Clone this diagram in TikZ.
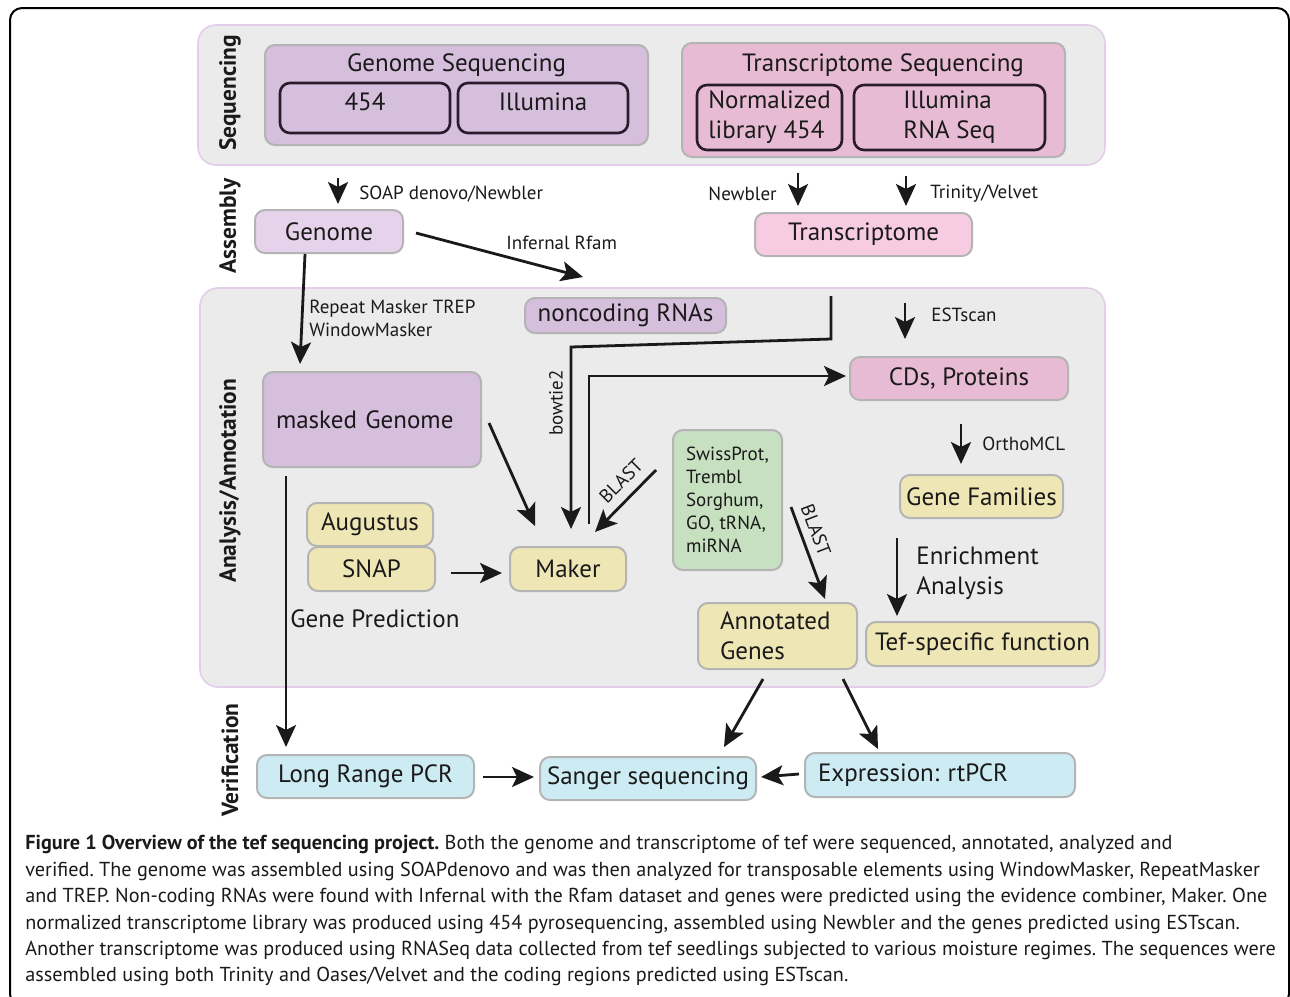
\documentclass[tikz,border=0pt]{standalone}
\usepackage{fontspec}
\setmainfont{PT Sans}
\usepackage{tikz}
\usetikzlibrary{arrows.meta}
\frenchspacing

\definecolor{bandfill}{HTML}{EBEBEB}
\definecolor{bandline}{HTML}{E3CDEA}
\definecolor{boxline}{HTML}{B4B4B4}
\definecolor{inline}{HTML}{2A1B2C}
\definecolor{ink}{HTML}{1A1A1A}
\definecolor{purplebox}{HTML}{D6BEDD}
\definecolor{lilacbox}{HTML}{E6D3EB}
\definecolor{pinkbox}{HTML}{E8BBD5}
\definecolor{rosebox}{HTML}{F7CCE2}
\definecolor{yellowbox}{HTML}{EFE6B6}
\definecolor{greenbox}{HTML}{C6E0C0}
\definecolor{bluebox}{HTML}{CDEBF3}

\tikzset{
  sz/.style 2 args={minimum width=#1*0.5pt, minimum height=#2*0.5pt},
  band/.style={draw=bandline, fill=bandfill, line width=0.8pt, rounded corners=9pt, inner sep=0pt},
  box/.style={draw=boxline, fill=#1, line width=1pt, rounded corners=5pt, inner sep=0pt,
              text=ink, font=\fontsize{12.5}{15}\selectfont},
  inbox/.style={draw=inline, line width=1.3pt, rounded corners=5pt, inner sep=0pt,
                text=ink, font=\fontsize{12.5}{15}\selectfont},
  lbl/.style={inner sep=0pt, text=ink, font=\fontsize{12.5}{15}\selectfont},
  tool/.style={inner sep=0pt, text=ink, font=\fontsize{9.5}{11.5}\selectfont},
  stage/.style={inner sep=0pt, rotate=90, text=ink, font=\fontsize{11.7}{13}\selectfont\bfseries},
  arr/.style={-{Stealth[length=11pt,width=10pt,inset=2.5pt]}, line width=1.4pt, draw=ink},
}

\begin{document}
\begin{tikzpicture}[x=0.5pt,y=-0.5pt]
\useasboundingbox (0,0) rectangle (1290,996);
\draw[line width=1pt, rounded corners=6pt] (10,8) rectangle (1289,1006);

% Background
\node (seqband) [band, sz={907}{140}] at (651.5,95) {};
\node (anaband) [band, sz={905}{399}] at (652.5,487.5) {};

\node (seqlbl) [stage] at (230,93) {Sequencing};
\node (asmlbl) [stage] at (230,226) {Assembly};
\node (analbl) [stage] at (230,481) {Analysis/Annotation};
\node (verlbl) [stage] at (230,760) {Verification};

% Sequencing
\node (gseq) [box=purplebox, sz={383}{100}] at (456.5,95) {};
\node (gseqtitle) [lbl] at (456.5,65) {Genome Sequencing};
\node (g454) [inbox, sz={170}{50}, text depth=6pt] at (365,108) {454};
\node (gill) [inbox, sz={170}{50}, text depth=6pt] at (543,108) {Illumina};

\node (tseq) [box=pinkbox, sz={383}{114}] at (873.5,100) {};
\node (tseqtitle) [lbl] at (883,65) {Transcriptome Sequencing};
\node (tnorm) [inbox, sz={145}{65}, align=left] at (769.5,117.5) {Normalized\\library 454};
\node (till) [inbox, sz={191}{65}, align=left] at (949.5,117.5) {Illumina\\RNA Seq};

% Assembly
\node (genome) [box=lilacbox, sz={148}{43}] at (329,231.5) {Genome};
\node (transcr) [box=rosebox, sz={217}{43}] at (863.5,234.5) {Transcriptome};

% Analysis/Annotation
\node (ncrna) [box=purplebox, sz={201}{35}] at (625.5,315.5) {noncoding RNAs};
\node (masked) [box=purplebox, sz={218}{95}, text width=192*0.5pt, align=left] at (372,419.5) {masked Genome};
\node (cds) [box=pinkbox, sz={218}{43}] at (959,378.5) {CDs, Proteins};
\node (families) [box=yellowbox, sz={163}{43}] at (981.5,496.5) {Gene Families};
\node (db) [box=greenbox, sz={109}{140}, align=left,
            font=\fontsize{9.5}{11.5}\selectfont] at (727.5,500)
      {SwissProt,\\Trembl\\Sorghum,\\GO, tRNA,\\miRNA};
\node (annot) [box=yellowbox, sz={159}{66}, text width=115*0.5pt, align=left] at (777.5,636) {Annotated\\Genes};
\node (tef) [box=yellowbox, sz={233}{44}] at (982.5,644) {Tef-specific function};
\node (augustus) [box=yellowbox, sz={126}{43}] at (370,524.5) {Augustus};
\node (snap) [box=yellowbox, sz={127}{44}] at (371.5,569) {SNAP};
\node (maker) [box=yellowbox, sz={116}{44}] at (568,569) {Maker};
\node (genepred) [lbl, anchor=west] at (290,619) {Gene Prediction};
\node (enrich) [lbl, anchor=west, align=left] at (916,573) {Enrichment\\Analysis};

% Verification
\node (lrpcr) [box=bluebox, sz={217}{43}] at (365.5,776.5) {Long Range PCR};
\node (sanger) [box=bluebox, sz={216}{43}] at (648,778.5) {Sanger sequencing};
\node (expr) [box=bluebox, sz={270}{44}, text width=244*0.5pt, align=left] at (940,775) {Expression: rtPCR};

% Tools
\node (soaplbl) [tool, anchor=west] at (359,194) {SOAP denovo/Newbler};
\node (newblbl) [tool, anchor=east] at (777,194) {Newbler};
\node (trinlbl) [tool, anchor=west] at (930,194) {Trinity/Velvet};
\node (inflbl) [tool, anchor=west] at (506,243) {Infernal Rfam};
\node (replbl) [tool, anchor=west, align=left] at (309,318) {Repeat Masker TREP\\WindowMasker};
\node (bowlbl) [tool, rotate=90] at (556,403) {bowtie2};
\node (blastmk) [tool, rotate=45] at (621,481) {BLAST};
\node (blastan) [tool, rotate=-69] at (816,530) {BLAST};
\node (estlbl) [tool, anchor=west] at (931,315) {ESTscan};
\node (ortlbl) [tool, anchor=west] at (982,444) {OrthoMCL};

\draw[arr] ([shift={(-118.5,32)}]gseq.south) -- ([shift={(9,-5)}]genome.north);
\draw[arr] ([shift={(-75.5,15)}]tseq.south) -- ([shift={(-65.5,-6)}]transcr.north);
\draw[arr] ([shift={(32.5,18)}]tseq.south) -- ([shift={(42.5,-6)}]transcr.north);
\draw[arr] ([shift={(12,1.5)}]genome.east) -- ([shift={(-42.5,-20)}]ncrna.north);
\draw[arr] ([shift={(-24,0)}]genome.south) -- ([shift={(-72,-7)}]masked.north);
\draw[arr] ([shift={(-32.5,39)}]transcr.south) -- ++(0,43) -- ++(-260,8) -- ([shift={(3,-17)}]maker.north);
\draw[arr] ([shift={(21,-22)}]maker.north) |- ([shift={(-3,-2.5)}]cds.west);
\draw[arr] ([shift={(41.5,46)}]transcr.south) -- ([shift={(-54,-17)}]cds.north);
\draw[arr] ([shift={(2,23)}]cds.south) -- ([shift={(-20.5,-10)}]families.north);
\draw[arr] ([shift={(-84.5,19)}]families.south) -- ([shift={(-85.5,-5)}]tef.north);
\draw[arr] ([shift={(8,7)}]db.east) -- ([shift={(47.5,-3)}]annot.north);
\draw[arr] ([shift={(-16,-30)}]db.west) -- ([shift={(27,-14)}]maker.north);
\draw[arr] ([shift={(7,3.5)}]masked.east) -- ([shift={(-33,-20)}]maker.north);
\draw[arr] ([shift={(15,4)}]snap.east) -- ([shift={(-7,4)}]maker.west);
\draw[arr] ([shift={(-86,8)}]masked.south) -- ([shift={(-79.5,-7)}]lrpcr.north);
\draw[arr] ([shift={(8,0.5)}]lrpcr.east) -- ([shift={(-5,-1.5)}]sanger.west);
\draw[arr] ([shift={(-5,-1)}]expr.west) -- ([shift={(4,-1.5)}]sanger.east);
\draw[arr] ([shift={(-14.5,9)}]annot.south) -- ([shift={(76,-9)}]sanger.north);
\draw[arr] ([shift={(65.5,9)}]annot.south) -- ([shift={(-62,-3)}]expr.north);

\node (caption) [anchor=north west, inner sep=0pt, align=left, text=ink,
                 font=\fontsize{10.1}{13.2}\selectfont] at (25,835)
  {\textbf{Figure 1 Overview of the tef sequencing project.} Both the genome and transcriptome of tef were sequenced, annotated, analyzed and\\
   verified. The genome was assembled using SOAPdenovo and was then analyzed for transposable elements using WindowMasker, RepeatMasker\\
   and TREP. Non-coding RNAs were found with Infernal with the Rfam dataset and genes were predicted using the evidence combiner, Maker. One\\
   normalized transcriptome library was produced using 454 pyrosequencing, assembled using Newbler and the genes predicted using ESTscan.\\
   Another transcriptome was produced using RNASeq data collected from tef seedlings subjected to various moisture regimes. The sequences were\\
   assembled using both Trinity and Oases/Velvet and the coding regions predicted using ESTscan.};
\end{tikzpicture}
\end{document}
